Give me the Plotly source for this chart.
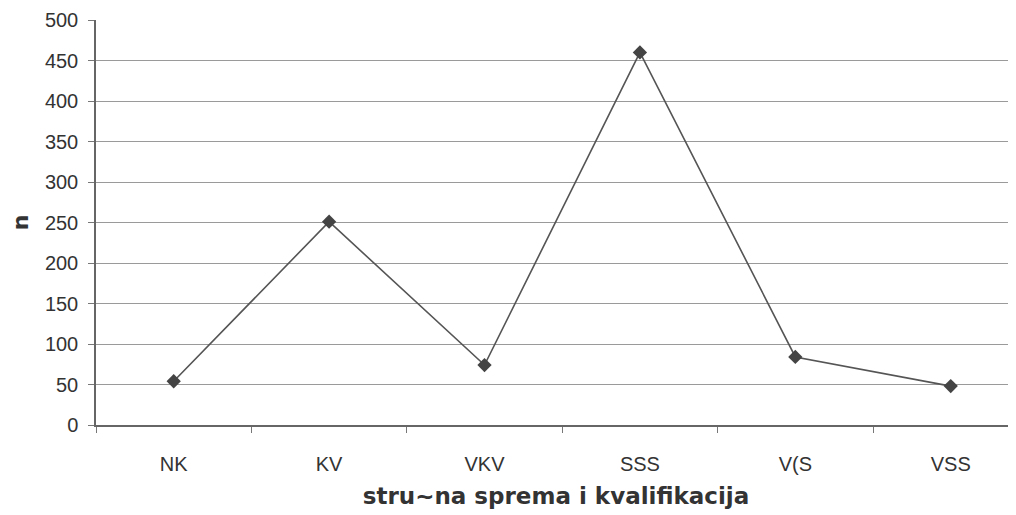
import plotly.graph_objects as go

categories = ["NK", "KV", "VKV", "SSS", "V(S", "VSS"]
values = [54, 251, 74, 460, 84, 48]
y_ticks = [0, 50, 100, 150, 200, 250, 300, 350, 400, 450, 500]

fig = go.Figure()
fig.add_trace(go.Scatter(
    x=categories, y=values, mode="lines+markers",
    line=dict(color="#555555", width=1.6),
    marker=dict(symbol="diamond", size=11, color="#444444"),
    showlegend=False,
))

font_family = "Liberation Sans, Arial, sans-serif"
title_font = "DejaVu Sans, sans-serif"
fig.update_layout(
    width=1008, height=507,
    margin=dict(l=88, r=0, t=12, b=90),
    plot_bgcolor="white", paper_bgcolor="white",
    font=dict(family=font_family, size=20, color="#333333"),
    xaxis=dict(
        type="category", range=[-0.5, 5.42], automargin=False,
        tickson="boundaries", ticks="outside", ticklen=6, tickcolor="#777777",
        showline=True, linecolor="#666666", linewidth=1.5,
        showgrid=False, ticklabelstandoff=20,
        title=dict(text="<b>stru~na sprema i kvalifikacija</b>",
                   font=dict(family=title_font, size=23, color="#333333"), standoff=14),
    ),
    yaxis=dict(
        range=[0, 500], tickvals=y_ticks, ticks="outside", ticklen=6,
        automargin=False,
        tickcolor="#777777", showline=True, linecolor="#666666", linewidth=1.5,
        showgrid=True, gridcolor="#9a9a9a", gridwidth=1.2, zeroline=False,
        ticklabelstandoff=6,
        title=dict(text="<b>n</b>", font=dict(family=title_font, size=22, color="#333333"), standoff=16),
    ),
)

fig.write_html("out.html")
